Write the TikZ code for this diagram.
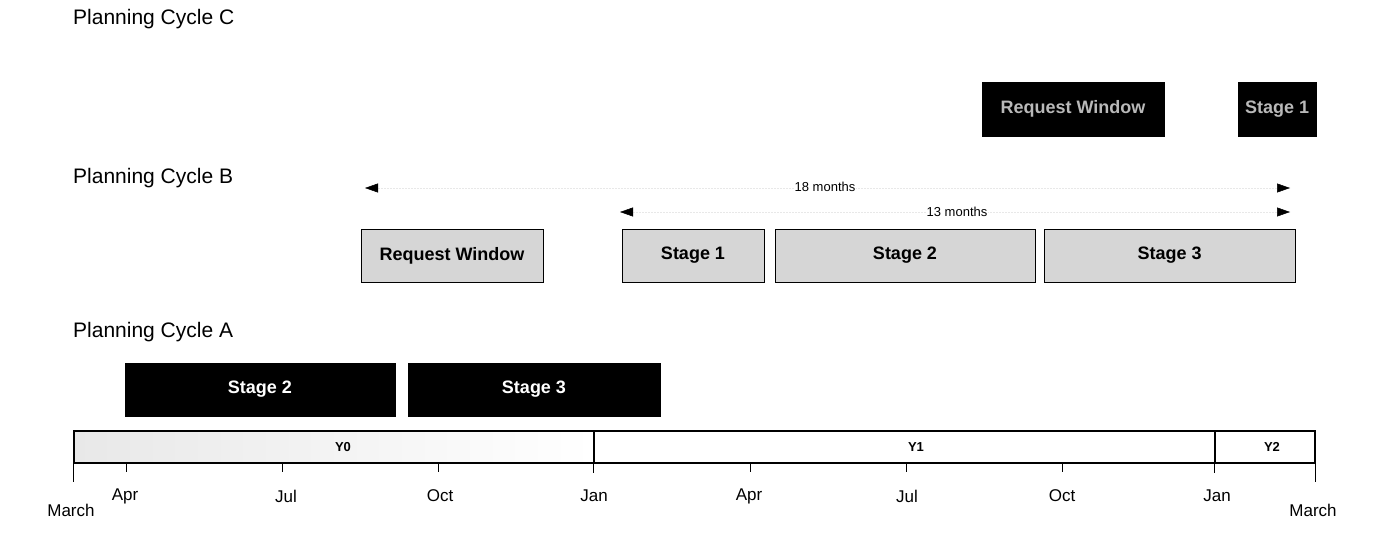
\documentclass[tikz,border=0pt]{standalone}
\usepackage{fontspec}
\setmainfont{Liberation Sans}
\usetikzlibrary{arrows.meta}
\tikzset{
  title/.style={anchor=west, font=\fontsize{21}{25}\selectfont, inner sep=0pt},
  cbox/.style={draw=black, fill=black, text=gray!55, font=\bfseries\fontsize{18}{21}\selectfont, minimum height=54pt, inner sep=0pt},
  bbox/.style={draw=black, line width=0.8pt, fill=gray!32, text=black, font=\bfseries\fontsize{18}{21}\selectfont, minimum height=53pt, inner sep=0pt},
  abox/.style={draw=black, fill=black, text=white, font=\bfseries\fontsize{18}{21}\selectfont, minimum height=53pt, inner sep=0pt},
  yr/.style={draw=black, line width=1.1pt, minimum height=32pt, inner sep=0pt},
  yrlab/.style={font=\bfseries\fontsize{13}{15}\selectfont, inner sep=0pt},
  tick/.style={line width=0.9pt},
  mlab/.style={font=\fontsize{17}{20}\selectfont, inner sep=0pt},
  span/.style={draw=black!9, densely dotted, line width=0.5pt,
    {Triangle[color=black, length=13pt, width=9pt]}-{Triangle[color=black, length=13pt, width=9pt]}},
  spanlab/.style={font=\fontsize{13}{15}\selectfont, inner sep=1pt}
}
\begin{document}
\begin{tikzpicture}[x=1pt, y=-1pt]
\useasboundingbox (0,0) rectangle (1383,535);
% titles
\node[title] (tC) at (73,19) {Planning Cycle C};
\node[title] (tB) at (73,178) {Planning Cycle B};
\node[title] (tA) at (73,332) {Planning Cycle A};
% cycle C
\node[cbox, minimum width=182pt] (cRW) at (1073,109) {Request Window};
\node[cbox, minimum width=78pt] (cS1) at (1277,109) {Stage 1};
% cycle B spans
\coordinate (s18l) at (365,188);
\coordinate (s18r) at (1290,188);
\coordinate (s13l) at (620,212);
\coordinate (s13r) at (1290,212);
\draw[span] (s18l) -- (s18r);
\draw[span] (s13l) -- (s13r);
\node[spanlab, fill=white] (l18) at (825,187) {18 months};
\node[spanlab, fill=white] (l13) at (957,212) {13 months};
% cycle B boxes
\node[bbox, minimum width=182pt] (bRW) at (452,255.5) {Request Window};
\node[bbox, minimum width=142pt] (bS1) at (693,255.5) {Stage 1};
\node[bbox, minimum width=260pt] (bS2) at (905,255.5) {Stage 2};
\node[bbox, minimum width=251pt] (bS3) at (1169.5,255.5) {Stage 3};
% cycle A boxes
\node[abox, minimum width=270pt] (aS2) at (260,389.5) {Stage 2};
\node[abox, minimum width=252pt] (aS3) at (534,389.5) {Stage 3};
% year bar
\node[yr, minimum width=520pt, left color=gray!18, right color=white] (y0) at (334,447) {};
\node[yr, minimum width=621pt] (y1) at (904.5,447) {};
\node[yr, minimum width=100pt] (y2) at (1265,447) {};
\node[yrlab] (y0l) at (343,447) {Y0};
\node[yrlab] (y1l) at (916,447) {Y1};
\node[yrlab] (y2l) at (1272,447) {Y2};
% ticks
\foreach \x in {126,282,438,750,906,1062} \draw[tick] (\x,463) -- (\x,472);
\draw[tick] (y1.south west) -- ++(0,9);
\draw[tick] (y2.south west) -- ++(0,9);
\draw[tick] (y0.south west) -- ++(0,18);
\draw[tick] (y2.south east) -- ++(0,18);
% month labels
\node[mlab] (m1) at (125,496) {Apr};
\node[mlab] (m2) at (286,496) {Jul};
\node[mlab] (m3) at (440,496) {Oct};
\node[mlab] (m4) at (594,496) {Jan};
\node[mlab] (m5) at (749,496) {Apr};
\node[mlab] (m6) at (907,496) {Jul};
\node[mlab] (m7) at (1062,496) {Oct};
\node[mlab] (m8) at (1217,496) {Jan};
\node[mlab] (mL) at (71,510) {March};
\node[mlab] (mR) at (1313,510) {March};
\end{tikzpicture}
\end{document}
